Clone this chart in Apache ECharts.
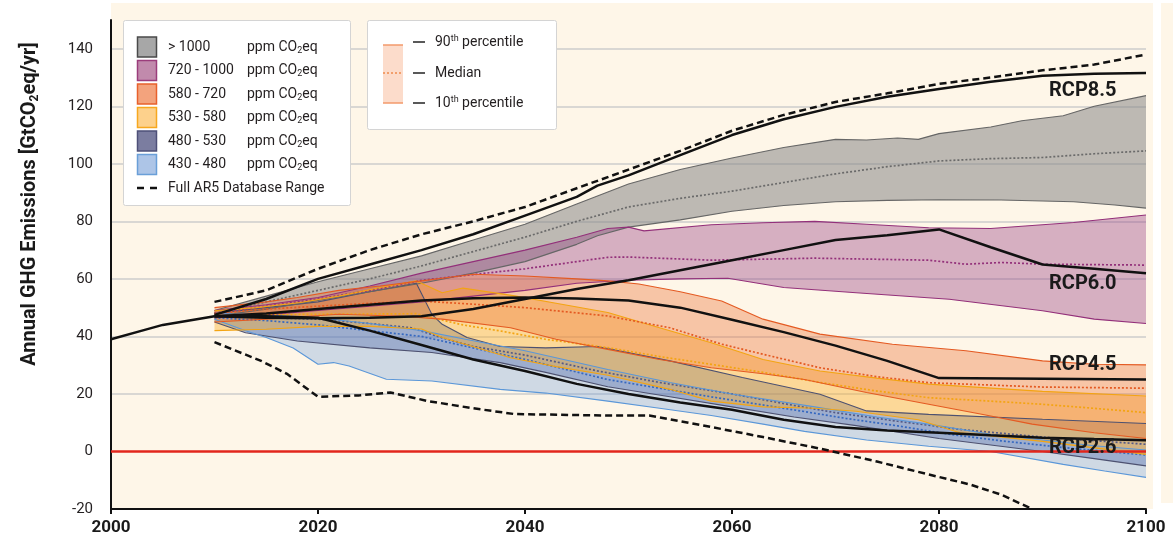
<!DOCTYPE html>
<html><head><meta charset="utf-8">
<script src="https://cdn.jsdelivr.net/npm/echarts@6/dist/echarts.min.js"></script>
<style>html,body{margin:0;padding:0;background:#fff}#c{width:1173px;height:547px}</style>
</head><body><div id="c"></div><script>
// ---------- axes ----------
const X_TICKS = [2000, 2020, 2040, 2060, 2080, 2100];
const Y_TICKS = [-20, 0, 20, 40, 60, 80, 100, 120, 140];
const Y_MAX = 150;

// ---------- historical + RCP pathways ----------
const HISTORY = [[2000,39],[2003,42],[2005,44],[2008,45.8],[2010,47]];
const RCP85 = [[2010,47.5],[2015,53],[2020,60],[2025,65],[2030,70],[2035,75.5],[2040,82],[2045,88.5],[2047,92.4],[2050,96],[2055,103],[2060,110],[2065,115.5],[2070,119.8],[2075,123.3],[2080,126],[2085,128.5],[2090,130.6],[2095,131.3],[2100,131.6]];
const RCP60 = [[2010,47],[2015,46.5],[2020,46.3],[2025,46.5],[2030,47],[2035,49.5],[2040,53],[2045,56.5],[2050,59.5],[2055,63],[2060,66.5],[2065,70],[2070,73.5],[2075,75.2],[2080,77.2],[2085,71],[2090,65],[2095,63.5],[2100,62]];
const RCP45 = [[2010,47],[2015,48],[2020,49.5],[2025,51],[2030,52.5],[2035,53.3],[2040,53.5],[2045,53.2],[2050,52.5],[2055,50],[2060,45.8],[2065,41.5],[2070,36.8],[2075,31.5],[2080,25.5],[2090,25.3],[2100,25]];
const RCP26 = [[2010,47],[2015,47],[2020,46.5],[2025,42],[2030,37],[2035,32],[2040,28],[2045,23.5],[2050,20],[2055,17],[2060,14.5],[2065,11],[2070,8.5],[2075,7.3],[2080,6.5],[2085,5.6],[2090,4.8],[2095,4.3],[2100,3.9]];

// ---------- full AR5 database range ----------
const FULL_UPPER = [[2010,52],[2015,56],[2020,63.5],[2025,70],[2030,75.5],[2035,80],[2040,85],[2045,91.5],[2050,98],[2055,104.5],[2060,111.5],[2065,117],[2070,121.5],[2075,124.5],[2080,127.8],[2085,130],[2090,132.5],[2095,134.5],[2100,138]];
const FULL_LOWER = [[2010,38],[2014.5,31.5],[2017,27],[2020,19],[2024,19.5],[2027,20.5],[2030.5,17.6],[2035,15],[2039,13],[2048,12.5],[2052,12.5],[2058,8.5],[2063,5],[2068.5,1],[2074,-3.5],[2079,-8],[2083,-11.5],[2086,-15],[2089,-20]];
const ZERO_LINE = [[2000,0],[2100,0]];

// ---------- category bands: 90th / median / 10th percentile ----------
const GT1000_P90 = [[2010,49],[2015,54],[2020,59],[2025,63.5],[2030,68],[2035,73.5],[2040,79],[2045,86],[2050,93],[2055,98],[2060,102],[2065,105.7],[2070,108.5],[2073,108.3],[2076,109],[2078,108.5],[2080,110.5],[2085,112.8],[2088,115],[2092,116.7],[2095,120],[2100,123.7]];
const GT1000_MED = [[2010,48],[2015,52],[2020,56],[2025,60],[2030,64.5],[2035,69.5],[2040,74.5],[2045,80],[2050,85],[2055,88],[2060,90.5],[2065,93.5],[2070,96.5],[2075,99],[2080,101],[2085,101.8],[2090,102.2],[2095,103.5],[2100,104.5]];
const GT1000_P10 = [[2010,47],[2015,49.5],[2020,52.5],[2025,55.5],[2030,58.5],[2035,62],[2040,66],[2045,72],[2047,75],[2050,78],[2055,80.5],[2060,83.5],[2065,85.5],[2070,86.8],[2075,87.3],[2080,87.5],[2086,87.4],[2093,86.8],[2097,85.7],[2100,84.6]];

const C720_P90 = [[2010,49],[2015,51],[2020,53.5],[2025,57.5],[2030,62],[2035,66],[2040,70],[2045,74.5],[2048,77.5],[2050,78],[2051.5,76.7],[2058,78.8],[2063,79.5],[2068,80],[2073,79],[2079,77.8],[2085,77.5],[2093,79.6],[2100,82.2]];
const C720_MED = [[2010,48],[2015,50.5],[2020,53],[2025,56],[2030,59.5],[2035,61.5],[2040,63.5],[2045,66],[2048,67.5],[2050,67.6],[2058,66.5],[2068,67.2],[2079,66.5],[2082.6,65.1],[2086,65.7],[2090,65.1],[2100,64.8]];
const C720_P10 = [[2010,46.5],[2015,47.5],[2020,49],[2025,50.5],[2030,52],[2035,54],[2040,56],[2045,58.5],[2050,59.5],[2055,60],[2059.6,60.2],[2065,57],[2072,55.2],[2081,52.9],[2090,48.9],[2095,46],[2100,44.5]];

const C580_P90 = [[2010,50],[2015,52],[2018,53.5],[2022,56],[2026,57.5],[2030,59.3],[2035,61.6],[2040,61],[2045,60],[2048,59.3],[2051,58.2],[2055,55.5],[2059,52.3],[2063,46],[2068.5,40.8],[2075.5,37.3],[2082.6,35],[2090,31.5],[2095,30.3],[2100,30.1]];
const C580_MED = [[2010,48],[2015,49.5],[2020,50.5],[2025,51.5],[2030,52.3],[2035,51.2],[2040,50],[2048,47.1],[2054,43],[2059,37.3],[2063,33.8],[2068.5,29.1],[2074,26],[2079,23.9],[2090,22.4],[2100,22]];
const C580_P10 = [[2010,45],[2015,46],[2022,47.7],[2028,47],[2032,46],[2038.6,43],[2043,39],[2048,35.5],[2053,32],[2058,29.1],[2063,27],[2067,25],[2073,20.5],[2079,16.4],[2084,13],[2089,9.5],[2095,6.5],[2100,4.5]];

const C530_P90 = [[2010,48.9],[2014,50],[2018.3,51.8],[2022,54],[2026,57],[2029.5,59.3],[2032,55.2],[2034,56.8],[2039,54.1],[2043,51.5],[2048,48.3],[2053,43],[2058,37.8],[2063,32],[2068.5,28],[2074,25.5],[2079,23.4],[2090,20.9],[2100,19.3]];
const C530_MED = [[2010,47],[2015,47.5],[2020,47.7],[2025,47.8],[2029.5,47.9],[2031,46.5],[2034,44],[2037.6,41.9],[2042,39],[2048,36.1],[2053,33],[2058,30.3],[2063,27.5],[2068.5,24],[2074,21],[2079,18.7],[2085,17.5],[2090,16.4],[2095,15],[2100,13.5]];
const C530_P10 = [[2010,42],[2015,42.5],[2020,43.5],[2025,43.5],[2030,42.6],[2032,39.6],[2038.6,32.6],[2043,29.5],[2048,26.5],[2054,21.6],[2058,17.5],[2063,15.5],[2068,15],[2072,14],[2078,11],[2082,6.5],[2090,3.5],[2100,-1]];

const C480_P90 = [[2010,48],[2015,50],[2020,52],[2025,55.5],[2029.5,58.5],[2031,47.7],[2032,44.2],[2034.4,39.6],[2037.6,36.5],[2042,36],[2047,36.5],[2054,31.5],[2061,25.7],[2068.5,19.9],[2073,14.1],[2079,12.9],[2090,11.2],[2100,9.7]];
const C480_MED = [[2010,47],[2015,46.5],[2020,46],[2025,44.5],[2029,43],[2032,39.5],[2035,36.5],[2040,33.5],[2047,28],[2053,24],[2060,20],[2066,16],[2070,13.5],[2076,10.5],[2082,7.7],[2090,5],[2100,2.5]];
const C480_P10 = [[2010,45],[2013,41.3],[2018,38.4],[2025,36],[2031,34.4],[2037.6,30.9],[2042,27.5],[2048,22.5],[2054,19],[2060,15.5],[2066,12],[2072,9],[2080,4.5],[2090,0],[2095,-2.5],[2100,-5]];

const C430_P90 = [[2010,48],[2015,47.5],[2020,46.5],[2025,44.5],[2030,42],[2035,38.5],[2040,35],[2048,28.5],[2054,24],[2060,20],[2068,15.5],[2074,12],[2079,9.5],[2085,6],[2090,4],[2095,2],[2100,0.5]];
const C430_MED = [[2010,46.5],[2015,45.5],[2020,44],[2025,42],[2030,40],[2035,36],[2040,32],[2048,25],[2053,22],[2058,19],[2066.6,14.1],[2071,11.5],[2076,8.9],[2081,6],[2086,3.7],[2093,1],[2100,-1.2]];
const C430_P10 = [[2010,46],[2013,42],[2015,39.6],[2017.6,36],[2020,30.3],[2021.5,30.9],[2023,29.7],[2026.6,25.1],[2031,24.5],[2037.6,21.6],[2042,20.3],[2048,17.5],[2053,15],[2058,12.5],[2063,9.5],[2067,7],[2073,4],[2079,1.8],[2085,0],[2092,-4.5],[2096,-6.8],[2100,-9]];

// ---------- labels ----------
const CATEGORY_LABELS = ['> 1000', '720 - 1000', '580 - 720', '530 - 580', '480 - 530', '430 - 480'];
const RCP_LABELS = ['RCP8.5', 'RCP6.0', 'RCP4.5', 'RCP2.6'];

// ---------- styles ----------
const BANDS = [
  {up: GT1000_P90, med: GT1000_MED, lo: GT1000_P10, fill: 'rgba(135,135,135,0.55)', edge: '#666666', medc: '#6a6a6a', sw: '#a7a7a7', sws: '#4a4a4a'},
  {up: C720_P90, med: C720_MED, lo: C720_P10, fill: 'rgba(150,60,130,0.38)', edge: '#93307a', medc: '#93307a', sw: '#c18aac', sws: '#9b3d7b'},
  {up: C580_P90, med: C580_MED, lo: C580_P10, fill: 'rgba(235,110,50,0.36)', edge: '#e45a22', medc: '#e45a22', sw: '#f3a37d', sws: '#e8612c'},
  {up: C530_P90, med: C530_MED, lo: C530_P10, fill: 'rgba(250,175,40,0.42)', edge: '#f3a412', medc: '#f3a412', sw: '#fdd18c', sws: '#f7a81f'},
  {up: C480_P90, med: C480_MED, lo: C480_P10, fill: 'rgba(55,75,140,0.36)', edge: '#4d5170', medc: '#545a86', sw: '#7b7da0', sws: '#4e5078'},
  {up: C430_P90, med: C430_MED, lo: C430_P10, fill: 'rgba(100,150,220,0.30)', edge: '#5b97d8', medc: '#3568c0', sw: '#adc5e7', sws: '#6a9fd8'}
];
const DRAW_ORDER = [4, 5, 0, 1, 3, 2];

const FONT = 'Roboto, "Open Sans", sans-serif';
const CREAM = '#fef6e8';

function bandSeries(b) {
  const pts = b.up.concat(b.lo.slice().reverse());
  return {
    type: 'custom', silent: true, clip: true, z: 2,
    data: pts, encode: {x: 0, y: 1},
    renderItem: function (params, api) {
      if (params.dataIndexInside !== 0) return null;
      const poly = [];
      for (let i = 0; i < params.dataInsideLength; i++) {
        poly.push(api.coord([api.value(0, i), api.value(1, i)]));
      }
      return {type: 'polygon', shape: {points: poly}, style: {fill: b.fill}};
    }
  };
}
function lineSeries(data, color, width, dash, z) {
  return {
    type: 'line', data: data, showSymbol: false, symbol: 'none', silent: true, z: z || 3,
    lineStyle: {color: color, width: width, type: dash || 'solid'}
  };
}

const series = [];
DRAW_ORDER.forEach(i => series.push(bandSeries(BANDS[i])));
DRAW_ORDER.forEach(i => {
  const b = BANDS[i];
  series.push(lineSeries(b.up, b.edge, 1.1));
  series.push(lineSeries(b.lo, b.edge, 1.1));
  series.push(lineSeries(b.med, b.medc, 1.7, [2, 2]));
});
series.push(lineSeries(ZERO_LINE, '#e2261c', 2.5, null, 4));
series.push(lineSeries(HISTORY, '#111', 2.5, null, 5));
[RCP85, RCP60, RCP45, RCP26].forEach(r => series.push(lineSeries(r, '#111', 2.5, null, 5)));
series.push(lineSeries(FULL_UPPER, '#111', 2.5, [7, 4], 5));
series.push(lineSeries(FULL_LOWER, '#111', 2.5, [7, 4], 5));

// ---------- legend graphics ----------
const txtRich = {
  sub: {fontSize: 9, fontFamily: FONT, fill: '#231f20', verticalAlign: 'bottom', lineHeight: 9},
  sup: {fontSize: 9, fontFamily: FONT, fill: '#231f20', verticalAlign: 'top', lineHeight: 9}
};
const graphics = [
  {type: 'rect', z: -10, silent: true, shape: {x: 111, y: 3, width: 1042, height: 506}, style: {fill: CREAM}},
  {type: 'rect', z: -10, silent: true, shape: {x: 1161, y: 3, width: 12, height: 500}, style: {fill: CREAM}},
  {type: 'rect', z: 100, shape: {x: 123.5, y: 20.5, width: 227, height: 185, r: 2}, style: {fill: '#fff', stroke: '#d4d4d4', lineWidth: 1}},
  {type: 'rect', z: 100, shape: {x: 367.5, y: 20.5, width: 189, height: 109, r: 2}, style: {fill: '#fff', stroke: '#d4d4d4', lineWidth: 1}}
];
const rowY = [47, 70.5, 94, 117.5, 141, 164.5];
CATEGORY_LABELS.forEach((lab, i) => {
  const b = BANDS[i];
  graphics.push({type: 'rect', z: 101, shape: {x: 137.5, y: rowY[i] - 10, width: 19, height: 20}, style: {fill: b.sw, stroke: b.sws, lineWidth: 1.5}});
  graphics.push({type: 'text', z: 101, x: 168, y: rowY[i], style: {text: lab, fontSize: 14, fontFamily: FONT, fill: '#231f20', verticalAlign: 'middle'}});
  graphics.push({type: 'text', z: 101, x: 247, y: rowY[i], style: {text: 'ppm CO{sub|2}eq', rich: txtRich, fontSize: 14, lineHeight: 16, fontFamily: FONT, fill: '#231f20', verticalAlign: 'middle'}});
});
graphics.push({type: 'line', z: 101, shape: {x1: 137, y1: 188, x2: 144, y2: 188}, style: {stroke: '#111', lineWidth: 2.5}});
graphics.push({type: 'line', z: 101, shape: {x1: 150, y1: 188, x2: 157, y2: 188}, style: {stroke: '#111', lineWidth: 2.5}});
graphics.push({type: 'text', z: 101, x: 168, y: 188, style: {text: 'Full AR5 Database Range', fontSize: 14, fontFamily: FONT, fill: '#231f20', verticalAlign: 'middle'}});
// percentile legend
graphics.push({type: 'rect', z: 101, shape: {x: 383, y: 45, width: 20, height: 58}, style: {fill: '#fcdccb'}});
graphics.push({type: 'line', z: 102, shape: {x1: 383, y1: 45, x2: 403, y2: 45}, style: {stroke: '#f39a6b', lineWidth: 1.5}});
graphics.push({type: 'line', z: 102, shape: {x1: 383, y1: 103, x2: 403, y2: 103}, style: {stroke: '#f39a6b', lineWidth: 1.5}});
graphics.push({type: 'line', z: 102, shape: {x1: 383, y1: 73, x2: 403, y2: 73}, style: {stroke: '#ee8a4e', lineWidth: 1.5, lineDash: [2, 2]}});
[[42, '90{sup|th} percentile'], [73, 'Median'], [103, '10{sup|th} percentile']].forEach(p => {
  graphics.push({type: 'line', z: 102, shape: {x1: 413, y1: p[0], x2: 425, y2: p[0]}, style: {stroke: '#222', lineWidth: 1.5}});
  graphics.push({type: 'text', z: 102, x: 435, y: p[0], style: {text: p[1], rich: txtRich, fontSize: 14, lineHeight: 16, fontFamily: FONT, fill: '#231f20', verticalAlign: 'middle'}});
});
// RCP labels
[[91, RCP_LABELS[0]], [284, RCP_LABELS[1]], [365, RCP_LABELS[2]], [448, RCP_LABELS[3]]].forEach(p => {
  graphics.push({type: 'text', z: 50, x: 1049, y: p[0], style: {text: p[1], fontSize: 20, fontWeight: 'bold', fontFamily: FONT, fill: '#1a1a1a', verticalAlign: 'middle'}});
});
// y-axis title
graphics.push({type: 'text', z: 50, x: 30, y: 204, rotation: Math.PI / 2, style: {
  text: 'Annual GHG Emissions [GtCO{s|2}eq/yr]', fontSize: 20, fontWeight: 'bold', fontFamily: FONT, fill: '#1a1a1a',
  align: 'center', verticalAlign: 'middle', lineHeight: 22,
  rich: {s: {fontSize: 12, fontWeight: 'bold', fontFamily: FONT, fill: '#1a1a1a', verticalAlign: 'bottom', lineHeight: 12}}
}});

const gridColors = Y_TICKS.map(v => v <= 0 ? 'transparent' : '#cdcdcd').concat(['transparent']);

const option = {
  animation: false,
  backgroundColor: '#ffffff',
  grid: {left: 111, right: 27, top: 20, bottom: 38, containLabel: false},
  xAxis: {
    type: 'value', min: X_TICKS[0], max: X_TICKS[X_TICKS.length - 1], interval: X_TICKS[1] - X_TICKS[0],
    axisLine: {show: true, onZero: false, lineStyle: {color: '#111', width: 2}},
    axisTick: {show: true, length: 5, lineStyle: {color: '#111', width: 2}},
    splitLine: {show: false},
    axisLabel: {fontSize: 17, fontWeight: 'bold', fontFamily: FONT, color: '#1a1a1a', margin: 10,
      formatter: v => String(v)}
  },
  yAxis: {
    type: 'value', min: Y_TICKS[0], max: Y_MAX, interval: Y_TICKS[1] - Y_TICKS[0],
    axisLine: {show: true, onZero: false, lineStyle: {color: '#111', width: 2}},
    axisTick: {show: false},
    splitLine: {show: true, lineStyle: {color: gridColors, width: 1.5}},
    axisLabel: {fontSize: 15, fontFamily: FONT, color: '#231f20', margin: 18, showMaxLabel: false,
      formatter: v => Y_TICKS.indexOf(v) >= 0 ? String(v) : ''}
  },
  graphic: graphics,
  series: series
};
const chart = echarts.init(document.getElementById('c'), null, {renderer: 'canvas'});
chart.setOption(option);
</script></body></html>
